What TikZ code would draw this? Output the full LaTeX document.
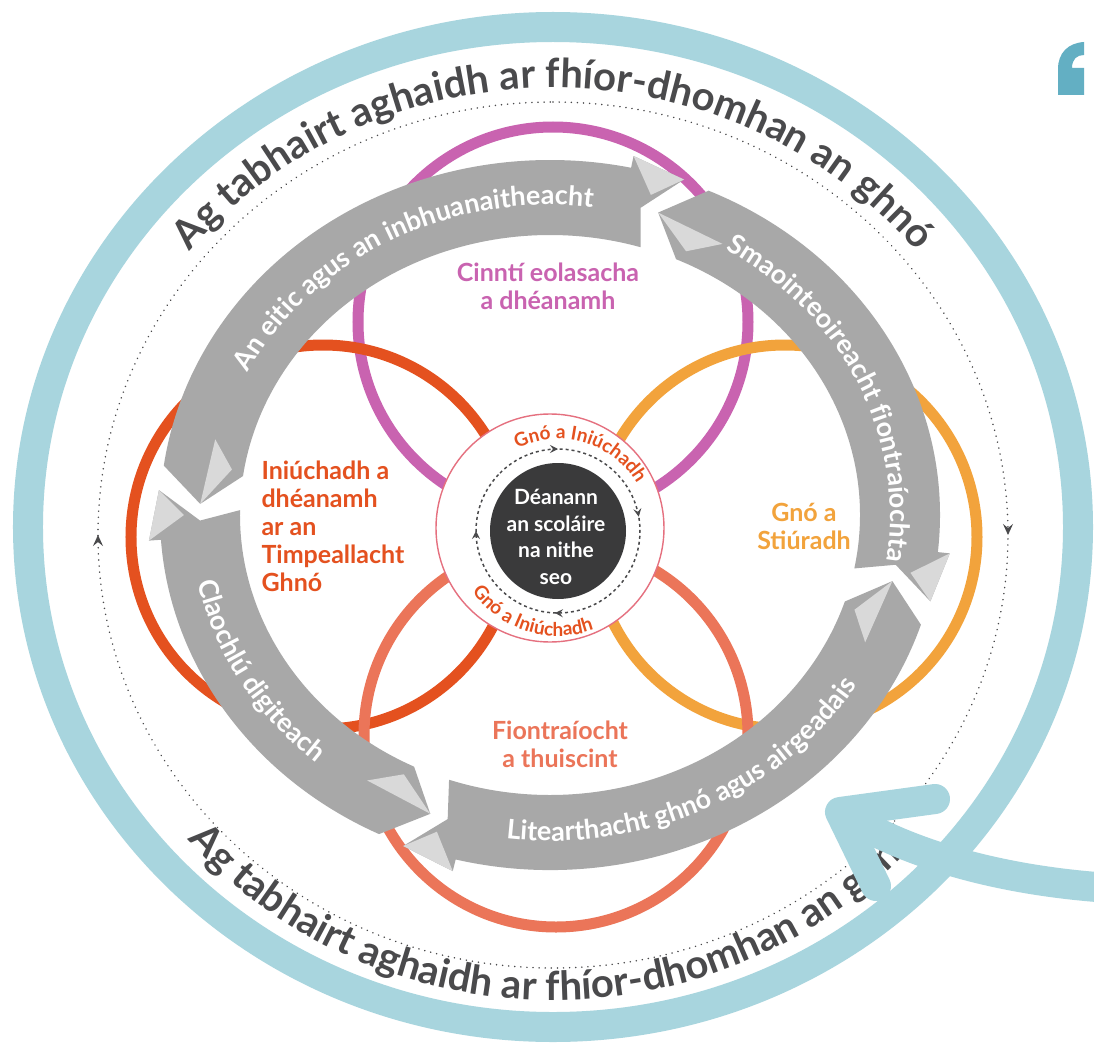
\documentclass[tikz,border=0pt]{standalone}
\usepackage{fontspec}
\setmainfont{Lato}
\usetikzlibrary{arrows.meta,decorations.text,decorations.markings}

\definecolor{ribbongray}{HTML}{A8A8A8}
\definecolor{facetgray}{HTML}{D9D9D9}
\definecolor{cinntipink}{HTML}{C963B0}
\definecolor{iniured}{HTML}{E4511F}
\definecolor{gnoorange}{HTML}{F2A33C}
\definecolor{fiontsalmon}{HTML}{EB7559}
\definecolor{ringteal}{HTML}{A8D5DE}
\definecolor{quoteteal}{HTML}{63AFC3}
\definecolor{worldgray}{HTML}{4A4A4C}
\definecolor{discgray}{HTML}{3A3A3B}
\definecolor{hubline}{HTML}{E5707F}

\newcommand{\worldfont}{\bfseries\fontsize{40}{42}\selectfont}
\newcommand{\ribbonfont}{\bfseries\fontsize{27}{30}\selectfont}
\newcommand{\hubfont}{\bfseries\fontsize{19}{21}\selectfont}

% one grey ribbon of the ring: tail angle #1, head angle #2 (#1 > #2)
\newcommand{\ribbon}[2]{%
  \pgfmathsetmacro\rbTail{#1}%
  \pgfmathsetmacro\rbPoint{#1+6}%
  \pgfmathsetmacro\rbFa{#1-1}%
  \pgfmathsetmacro\rbFb{#1-6}%
  \pgfmathsetmacro\rbHead{#2}%
  \pgfmathsetmacro\rbCorner{#2+3}%
  \pgfmathsetmacro\rbNotch{#2+5}%
  \pgfmathsetmacro\rbBarb{#2+8}%
  \pgfmathsetmacro\rbFc{#2+4}%
  \fill[ribbongray] (\rbCorner:310 and 280)
    arc[start angle=\rbCorner, end angle=\rbTail, x radius=310, y radius=280]
    -- (\rbPoint:350 and 318) -- (\rbTail:390 and 355)
    arc[start angle=\rbTail, end angle=\rbBarb, x radius=390, y radius=355]
    -- (\rbBarb:402 and 367) -- (\rbHead:392 and 357)
    -- (\rbNotch:350 and 318) -- cycle;
  \fill[facetgray] (\rbHead:392 and 357) -- (\rbBarb:402 and 367) -- (\rbFc:366 and 333) -- cycle;
  \fill[facetgray] (\rbPoint:350 and 318) -- (\rbFa:322 and 291) -- (\rbFb:345 and 313) -- cycle;
}

\begin{document}
\begin{tikzpicture}[x=1pt,y=1pt,
  petal/.style={line width=11pt},
  petaltext/.style={font=\bfseries\fontsize{25}{28}\selectfont, align=center},
  curved/.style={decorate, decoration={text along path, text align=center, text color=#1}},
  flow/.style={postaction={decorate}, decoration={markings,
      mark=at position 0.125 with {\arrow[solid]{Stealth[length=8pt,width=8pt,inset=3pt]}},
      mark=at position 0.347 with {\arrow[solid]{Stealth[length=8pt,width=8pt,inset=3pt]}},
      mark=at position 0.631 with {\arrow[solid]{Stealth[length=8pt,width=8pt,inset=3pt]}},
      mark=at position 0.875 with {\arrow[solid]{Stealth[length=8pt,width=8pt,inset=3pt]}}}},
  worldflow/.style={postaction={decorate}, decoration={markings,
      mark=at position 0.25 with {\arrow[solid]{Stealth[length=11pt,width=10pt,inset=4pt]}},
      mark=at position 0.75 with {\arrow[solid]{Stealth[length=11pt,width=10pt,inset=4pt]}}}}]

  \path[use as bounding box, fill=white] (-550,-527) rectangle (544,515);

  % the four rings
  \draw[cinntipink, petal] (3,193) circle[radius=195];
  \draw[iniured, petal] (-227,-22) circle[radius=192];
  \draw[gnoorange, petal] (235,-22) circle[radius=192];
  \draw[fiontsalmon, petal] (6,-220) circle[radius=192];

  % hub
  \node[circle, draw=hubline, line width=1.4pt, fill=white, minimum size=228pt, inner sep=0pt] (hub) at (0,-13) {};
  \node[circle, fill=discgray, minimum size=136pt, inner sep=0pt] (disc) at (8,-16) {};
  \node[text=white, font=\bfseries\fontsize{21}{26.5}\selectfont, align=center] (doer) at (6,-22)
    {Déanann\\an scoláire\\na nithe\\seo};
  \draw[worldgray, line width=1.5pt, dash pattern=on 3pt off 3pt, flow]
    ([shift={(8,-16)}]135:82) arc[start angle=135, end angle=-225, radius=82];
  \path[curved=iniured, decoration={text={|\hubfont|Gnó a Iniúchadh}}]
    ([shift={(8,-16)}]130:92) arc[start angle=130, end angle=17, radius=92];
  \path[curved=iniured, decoration={text={|\hubfont|Gnó a Iniúchadh}}]
    ([shift={(8,-16)}]195:105) arc[start angle=195, end angle=310, radius=105];

  % grey ribbons
  \ribbon{172}{70}
  \ribbon{66}{-14}
  \ribbon{342}{248}
  \ribbon{244}{176}

  \path[curved=white, decoration={text={|\ribbonfont|An eitic agus an inbhuanaitheacht}}]
    (160:340 and 310) arc[start angle=160, end angle=76, x radius=340, y radius=310];
  \path[curved=white, decoration={text={|\ribbonfont|Smaointeoireacht fiontraíochta}}]
    (64:340 and 310) arc[start angle=64, end angle=-14, x radius=340, y radius=310];
  \path[curved=white, decoration={text={|\ribbonfont|Claochlú digiteach}}]
    (186:360 and 326) arc[start angle=186, end angle=235, x radius=360, y radius=326];
  \path[curved=white, decoration={text={|\ribbonfont|Litearthacht ghnó agus airgeadais}}]
    (256:360 and 326) arc[start angle=256, end angle=336, x radius=360, y radius=326];

  % ring labels
  \node[petaltext, text=cinntipink] (cinnti) at (-2,229) {Cinntí eolasacha\\a dhéanamh};
  \node[petaltext, text=iniured, align=left, anchor=west] (iniuchadh) at (-292,-11)
    {Iniúchadh a\\dhéanamh\\ar an\\Timpeallacht\\Ghnó};
  \node[petaltext, text=gnoorange] (stiuradh) at (254,-11) {Gnó a\\Stiúradh};
  \node[petaltext, text=fiontsalmon] (fiontraiocht) at (10,-229) {Fiontraíocht\\a thuiscint};

  % outer world
  \draw[worldgray, line width=1.6pt, line cap=round, dash pattern=on 0.1pt off 6pt, worldflow]
    (3,413) arc[start angle=90, end angle=-270, x radius=455, y radius=433];
  \path[curved=worldgray, decoration={text={|\worldfont|Ag tabhairt aghaidh ar fhíor-dhomhan an ghnó}}]
    ([shift={(3,-20)}]152:470 and 447) arc[start angle=152, end angle=28, x radius=470, y radius=447];
  \path[curved=worldgray, decoration={text={|\worldfont|Ag tabhairt aghaidh ar fhíor-dhomhan an ghnó}}]
    ([shift={(3,-20)}]208:484 and 465) arc[start angle=208, end angle=332, x radius=484, y radius=465];

  % teal frame
  \draw[ringteal, line width=30pt] (3,-12) ellipse[x radius=525, y radius=500];
  \draw[ringteal, line width=30pt, line cap=round] (560,-373) .. controls (440,-365) and (350,-335) .. (292,-298);
  \draw[ringteal, line width=30pt, line cap=round, line join=round] (385,-284) -- (290,-297) -- (326,-371);
  \fill[quoteteal] (508,420) -- (534,420) -- (534,447) -- (522,447)
    .. controls (522,456) and (527,460) .. (534,460) -- (534,473)
    .. controls (518,472) and (508,462) .. (508,446) -- cycle;
\end{tikzpicture}
\end{document}
